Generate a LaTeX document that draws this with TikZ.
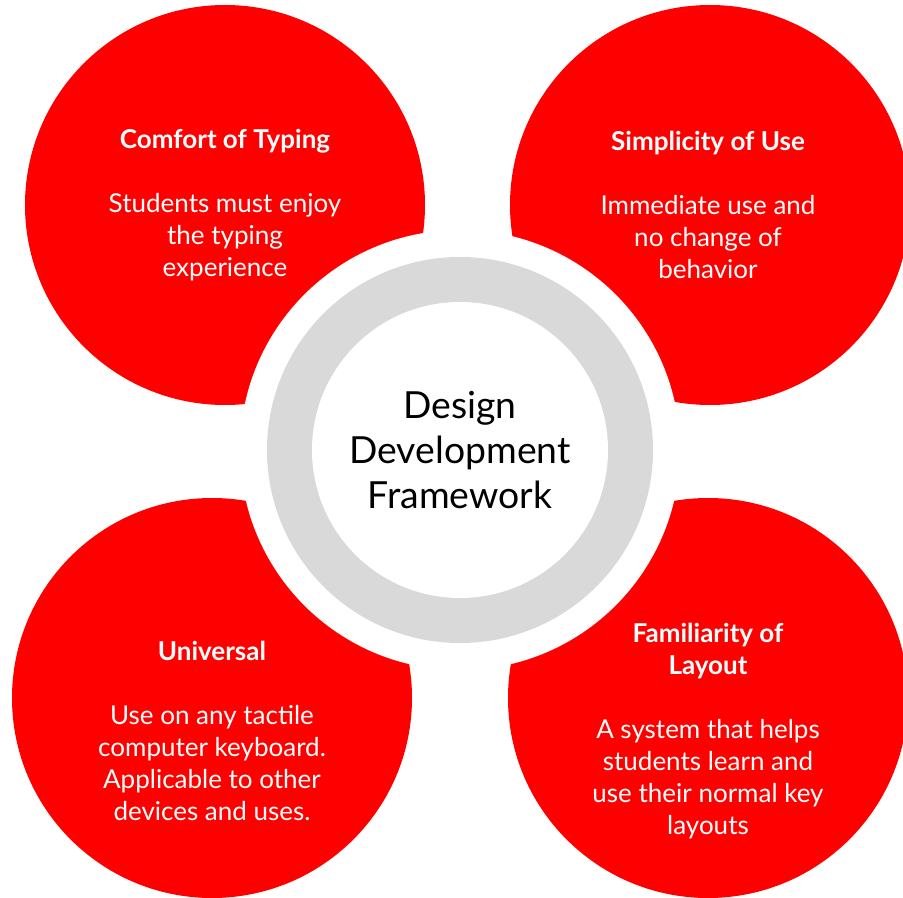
\documentclass[tikz,border=0pt]{standalone}
\usepackage{fontspec}
\setmainfont{Lato}
\usepackage{tikz}
\definecolor{cred}{HTML}{FF0000}
\definecolor{cgray}{HTML}{D9D9D9}

\begin{document}
\begin{tikzpicture}[x=0.75pt,y=-0.75pt,
  petal node/.style={circle,fill=cred,inner sep=0pt,minimum size=300pt},
  gap node/.style={circle,fill=white,inner sep=0pt,minimum size=330pt},
  ring node/.style={circle,fill=cgray,inner sep=0pt,minimum size=289.5pt},
  hub node/.style={circle,fill=white,inner sep=0pt,minimum size=222pt},
  petal text/.style={align=center,text=white,font=\fontsize{19.5}{24}\selectfont},
  hub text/.style={align=center,text=black,font=\fontsize{28}{33.75}\selectfont}]
  \useasboundingbox (0,0) rectangle (903,898);
  \node[petal node] (1) at (225,205) {};
  \node[petal node] (2) at (710,205) {};
  \node[petal node] (3) at (212,698) {};
  \node[petal node] (4) at (708,698) {};
  \node[gap node] (gap) at (460,450) {};
  \node[ring node] (ring) at (gap) {};
  \node[hub node] (hub) at (gap) {};

  \node[hub text] (t0) at (hub) {Design\\Development\\Framework};
  \node[petal text] (t1) at (225,205) {\textbf{Comfort of Typing}\\[24pt]Students must enjoy\\the typing\\experience};
  \node[petal text] (t2) at (708,205) {\textbf{Simplicity of Use}\\[24pt]Immediate use and\\no change of\\behavior};
  \node[petal text] (t3) at (212,731) {\textbf{Universal}\\[24pt]Use on any tactile\\computer keyboard.\\Applicable to other\\devices and uses.};
  \node[petal text] (t4) at (708,731) {\textbf{Familiarity of}\\\textbf{Layout}\\[24pt]A system that helps\\students learn and\\use their normal key\\layouts};
\end{tikzpicture}
\end{document}
